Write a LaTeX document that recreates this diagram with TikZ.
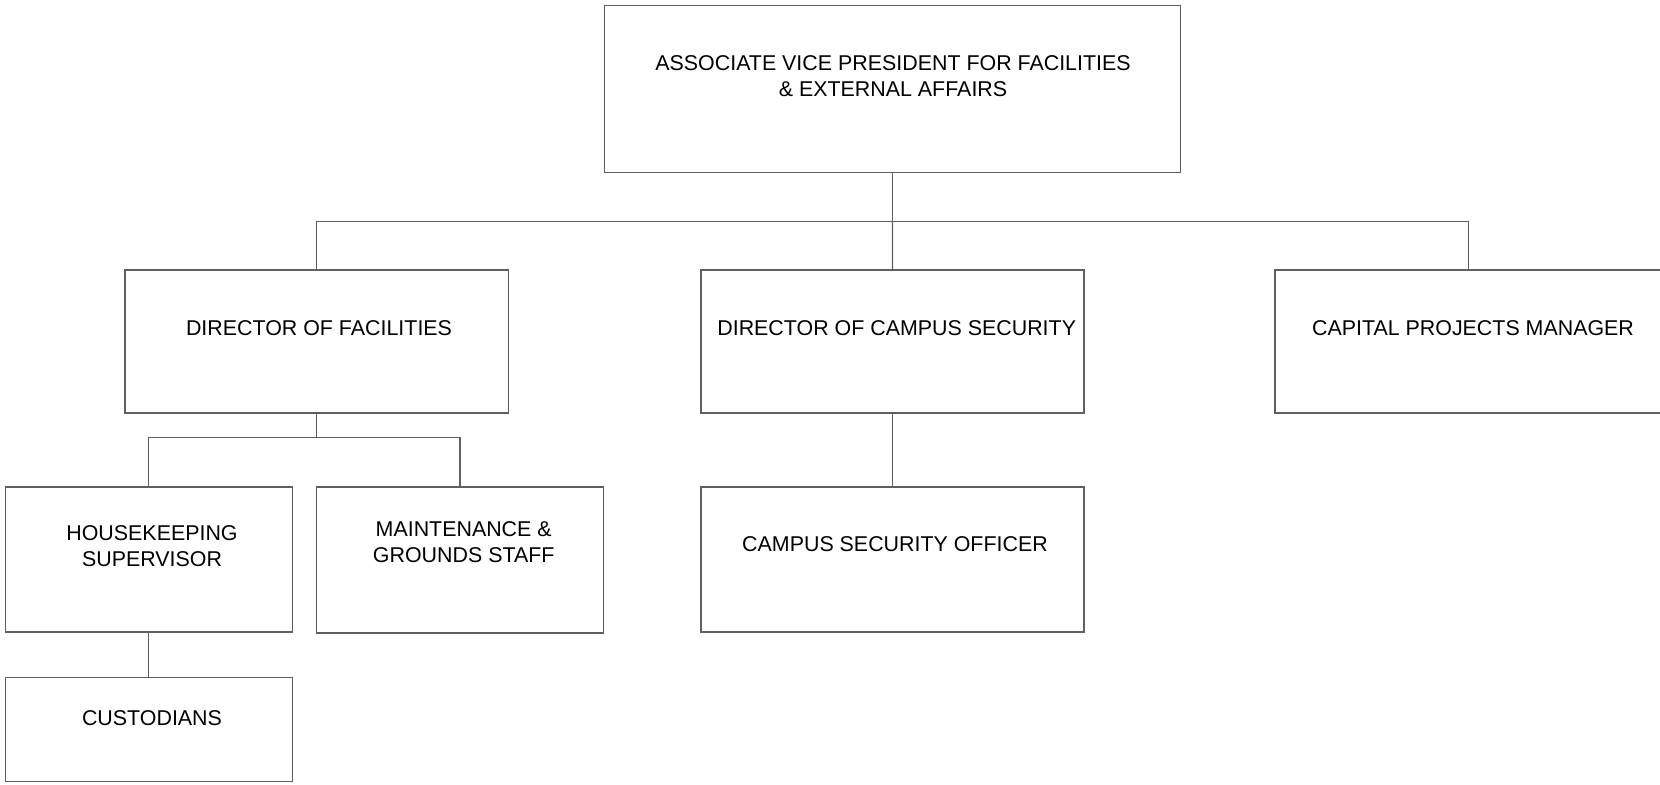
\documentclass[tikz,border=0pt]{standalone}
\usepackage{fontspec}
\setmainfont{Liberation Sans}
\definecolor{linegray}{RGB}{95,95,95}
\begin{document}
\begin{tikzpicture}[x=0.5pt,y=-0.5pt,
  box/.style={draw=linegray,line width=0.7pt,rectangle,inner sep=0pt,fill=white},
  txt/.style={inner sep=0pt,align=center,font=\fontsize{10.7}{12.8}\selectfont},
  conn/.style={draw=linegray,line width=0.7pt}]
\useasboundingbox (0,0) rectangle (1660,784);
% boxes
\node[box,minimum width=287.95pt,minimum height=83.65pt] (top) at (892.45,88.95) {};
\node[box,minimum width=191.65pt,minimum height=71.5pt] (dfac) at (316.55,341.5) {};
\node[box,minimum width=191.65pt,minimum height=71.5pt] (dcs) at (892.5,341.5) {};
\node[box,minimum width=193.6pt,minimum height=71.5pt] (cap) at (1468.4,341.5) {};
\node[box,minimum width=143.45pt,minimum height=72.5pt] (hk) at (148.75,559.5) {};
\node[box,minimum width=143.5pt,minimum height=73pt] (mg) at (460,560) {};
\node[box,minimum width=191.65pt,minimum height=72.5pt] (cso) at (892.5,559.5) {};
\node[box,minimum width=143.45pt,minimum height=51.85pt] (cust) at (148.75,729.45) {};
% texts
\node[txt] (ttop) at (893,76) {ASSOCIATE VICE PRESIDENT FOR FACILITIES\\\& EXTERNAL AFFAIRS};
\node[txt] (tdfac) at (319,328) {DIRECTOR OF FACILITIES};
\node[txt] (tdcs) at (896.7,328) {DIRECTOR OF CAMPUS SECURITY};
\node[txt] (tcap) at (1473,328) {CAPITAL PROJECTS MANAGER};
\node[txt] (thk) at (152,546) {HOUSEKEEPING\\SUPERVISOR};
\node[txt] (tmg) at (463.7,542) {MAINTENANCE \&\\GROUNDS STAFF};
\node[txt] (tcso) at (895,544) {CAMPUS SECURITY OFFICER};
\node[txt] (tcust) at (152,718) {CUSTODIANS};
% connectors
\coordinate (bus) at (892.45,221.3);
\coordinate (sub) at (316.55,437.2);
\draw[conn] (top.south) -- (bus);
\draw[conn] (bus) -- (dcs.north);
\draw[conn] (bus) -| (dfac.north);
\draw[conn] (bus) -| (cap.north);
\draw[conn] (dfac.south) -- (sub);
\draw[conn] (sub) -| (hk.north);
\draw[conn] (sub) -| (mg.north);
\draw[conn] (dcs.south) -- (cso.north);
\draw[conn] (hk.south) -- (cust.north);
\end{tikzpicture}
\end{document}
